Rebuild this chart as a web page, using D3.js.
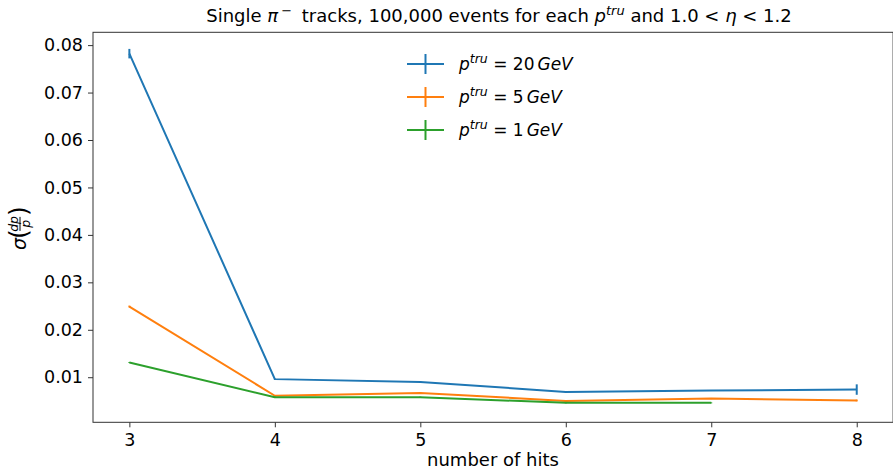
<!DOCTYPE html>
<html><head><meta charset="utf-8">
<script src="https://cdn.jsdelivr.net/npm/d3@7/dist/d3.min.js"></script>
<style>
body{margin:0;background:#fff;}
svg{display:block;font-family:"DejaVu Sans",sans-serif;}
</style></head>
<body><svg id="c" width="893" height="470"></svg>
<script>
// ---- data ----
const hits20 = [3, 4, 5, 6, 7, 8];
const sig20  = [0.0782, 0.0096, 0.0090, 0.0069, 0.0072, 0.0074];
const err20  = [0.0010, 0.0001, 0.0001, 0.0001, 0.0001, 0.0011];
const hits5  = [3, 4, 5, 6, 7, 8];
const sig5   = [0.0249, 0.0061, 0.0067, 0.0050, 0.0055, 0.0051];
const err5   = [0.0002, 0.0001, 0.0001, 0.0001, 0.0001, 0.0002];
const hits1  = [3, 4, 5, 6, 7];
const sig1   = [0.0131, 0.0058, 0.0058, 0.0046, 0.0046];
const err1   = [0.0001, 0.0001, 0.0001, 0.0001, 0.0001];
const seriesEnergy = ["20", "5", "1"];
const seriesColors = ["#1f77b4", "#ff7f0e", "#2ca02c"];
const xTicks = [3, 4, 5, 6, 7, 8];
const yTicks = [0.01, 0.02, 0.03, 0.04, 0.05, 0.06, 0.07, 0.08];

const series = [
  {h: hits20, v: sig20, e: err20},
  {h: hits5,  v: sig5,  e: err5},
  {h: hits1,  v: sig1,  e: err1}
];

const svg = d3.select("#c");
const L = 93, R = 893.1, T = 32.3, B = 422.3;
const x = d3.scaleLinear().domain([2.75, 8.25]).range([L, R]);
const y = d3.scaleLinear().domain([0.0005, 0.0827]).range([B, T]);

// data
series.forEach((s, i) => {
  const pts = s.h.map((h, j) => ({h, v: s.v[j], e: s.e[j]}));
  const g = svg.append("g");
  g.append("path").datum(pts)
    .attr("fill", "none").attr("stroke", seriesColors[i]).attr("stroke-width", 2)
    .attr("stroke-linejoin", "round")
    .attr("d", d3.line().x(d => x(d.h)).y(d => y(d.v)));
  g.selectAll("line").data(pts).enter().append("line")
    .attr("x1", d => x(d.h)).attr("x2", d => x(d.h))
    .attr("y1", d => y(d.v - d.e)).attr("y2", d => y(d.v + d.e))
    .attr("stroke", seriesColors[i]).attr("stroke-width", 2);
});

// axes
const fs = 17.5;
const xa = svg.append("g").attr("transform", `translate(0,${B})`)
  .call(d3.axisBottom(x).tickValues(xTicks).tickFormat(d3.format("d")).tickSizeOuter(0).tickSize(5).tickPadding(4));
const ya = svg.append("g").attr("transform", `translate(${L},0)`)
  .call(d3.axisLeft(y).tickValues(yTicks).tickFormat(d3.format(".2f")).tickSizeOuter(0).tickSize(5).tickPadding(5));
[xa, ya].forEach(a => {
  a.select(".domain").remove();
  a.selectAll("text").attr("font-family", "DejaVu Sans").attr("font-size", fs).attr("fill", "#000");
  a.selectAll("line").attr("stroke", "#333").attr("stroke-width", 1);
});
xa.selectAll("text").attr("dy", "0.85em");
svg.append("rect").attr("x", L).attr("y", T).attr("width", R - L).attr("height", B - T)
  .attr("fill", "none").attr("stroke", "#333").attr("stroke-width", 1);

// title
const title = svg.append("text").attr("x", 499).attr("y", 22).attr("text-anchor", "middle")
  .attr("font-size", 18).attr("fill", "#000");
title.append("tspan").text("Single ");
title.append("tspan").attr("font-style", "italic").text("π");
title.append("tspan").attr("font-size", 13).attr("dx", 3).attr("dy", -7).text("−");
title.append("tspan").attr("dy", 7).attr("dx", 4).text(" tracks, 100,000 events for each ");
title.append("tspan").attr("font-style", "italic").text("p");
title.append("tspan").attr("font-style", "italic").attr("font-size", 13).attr("dy", -7).text("tru");
title.append("tspan").attr("dy", 7).text(" and 1.0 < ");
title.append("tspan").attr("font-style", "italic").text("η");
title.append("tspan").text(" < 1.2");

// x label
svg.append("text").attr("x", 493).attr("y", 466).attr("text-anchor", "middle")
  .attr("font-size", 18).attr("fill", "#000").text("number of hits");

// y label (rotated)
const yl = svg.append("g").attr("transform", "translate(20,228) rotate(-90)");
const inner = yl.append("g");
inner.append("text").attr("x", 0).attr("y", 6).attr("font-size", 19).attr("font-style", "italic").text("σ");
inner.append("text").attr("x", 11).attr("y", 7).attr("font-size", 25).text("(");
inner.append("text").attr("x", 26).attr("y", -2.5).attr("font-size", 12.5).attr("font-style", "italic").attr("text-anchor", "middle").text("dp");
inner.append("line").attr("x1", 19).attr("x2", 33).attr("y1", 0).attr("y2", 0).attr("stroke", "#000").attr("stroke-width", 1);
inner.append("text").attr("x", 26).attr("y", 10).attr("font-size", 12.5).attr("font-style", "italic").attr("text-anchor", "middle").text("p");
inner.append("text").attr("x", 34).attr("y", 7).attr("font-size", 25).text(")");
const bb = inner.node().getBBox();
inner.attr("transform", `translate(${-(bb.x + bb.width / 2)},0)`);

// legend
const legY = [64, 97, 130];
seriesEnergy.forEach((e, i) => {
  const g = svg.append("g").attr("transform", `translate(407,${legY[i]})`);
  g.append("line").attr("x1", 0).attr("x2", 37).attr("y1", 0).attr("y2", 0).attr("stroke", seriesColors[i]).attr("stroke-width", 2);
  g.append("line").attr("x1", 18.5).attr("x2", 18.5).attr("y1", -10).attr("y2", 10).attr("stroke", seriesColors[i]).attr("stroke-width", 2);
  const t = g.append("text").attr("x", 52).attr("y", 6).attr("font-size", 17).attr("fill", "#000");
  t.append("tspan").attr("font-style", "italic").text("p");
  t.append("tspan").attr("font-style", "italic").attr("font-size", 12.5).attr("dy", -7).text("tru");
  t.append("tspan").attr("dy", 7).text(" = " + e);
  t.append("tspan").attr("font-style", "italic").attr("dx", 3).text("GeV");
});
</script></body></html>
